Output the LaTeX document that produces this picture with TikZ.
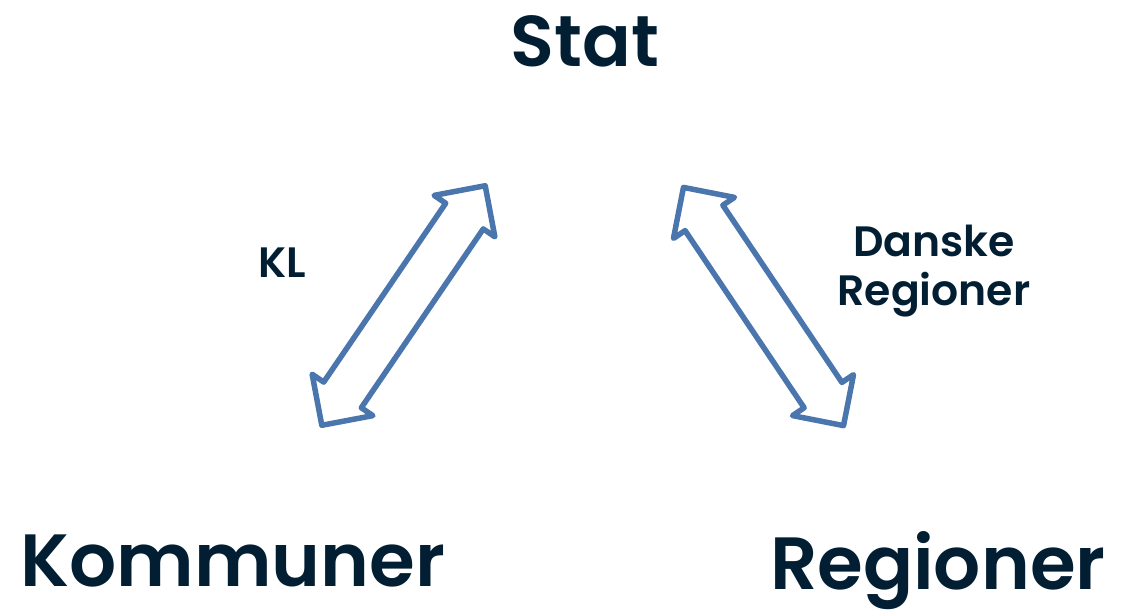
\documentclass[tikz,border=0pt]{standalone}
\usepackage{fontspec}
\setmainfont{Poppins}[BoldFont={Poppins SemiBold}]
\usepackage{xcolor}
\usetikzlibrary{shapes.arrows}

\definecolor{navy}{HTML}{021E33}
\definecolor{pilblaa}{HTML}{4A75AD}

\begin{document}
\begin{tikzpicture}[x=1pt, y=-1pt,
		every node/.style={text=navy, inner sep=0pt},
		aktoer/.style={font=\bfseries\fontsize{#1}{#1}\selectfont, anchor=base},
		forening/.style={font=\bfseries\fontsize{#1}{49}\selectfont},
		pil/.style={double arrow, draw=pilblaa, line width=5.5pt, line join=round,
			inner xsep=0pt, inner ysep=20pt,
			minimum width=68pt, double arrow head extend=14pt, minimum height=#1}]
		\useasboundingbox (0,0) rectangle (1127,611);
		%
		%Stat
		\node[aktoer=72] (stat) at (584.7,66) {Stat};
		%
		%Kommuner
		\node[aktoer=74] (kommuner) at (232.8,586) {Kommuner};
		%
		%Regioner
		\node[aktoer=74] (regioner) at (937.8,589) {Regioner};
		%
		%KL
		\node[forening=42.5, anchor=base] (kl) at (282.2,277.3) {KL};
		%
		%Danske Regioner
		\node[forening=42.5, align=center] (dr) at (934,271) {Danske\\Regioner};
		%
		%Pil Kommuner - Stat
		\node[pil=290pt, rotate=55.7] (pilkl) at (403.5,305.5) {};
		%
		%Pil Regioner - Stat
		\node[pil=287pt, rotate=-56.1] (pildr) at (763.5,306.5) {};
	\end{tikzpicture}
\end{document}
